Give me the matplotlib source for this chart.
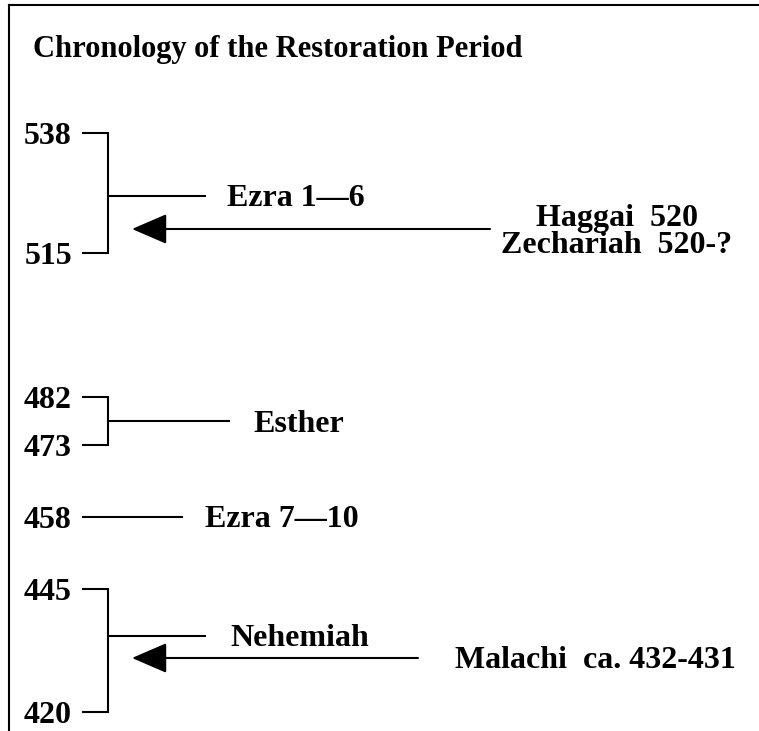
import matplotlib
matplotlib.use('Agg')
import matplotlib.pyplot as plt

# Chart content
title = 'Chronology of the Restoration Period'
bracket_years = [(538, 515), (482, 473), (445, 420)]
bracket_books = ['Ezra 1\u20146', 'Esther', 'Nehemiah']
single_year = 458
single_book = 'Ezra 7\u201410'
prophets = [['Haggai  520', 'Zechariah  520-?'], ['Malachi  ca. 432-431']]

# Layout (pixel positions on a 759 x 731 canvas)
year_y = {538: 133, 515: 253, 482: 397, 473: 445, 458: 517, 445: 589, 420: 712}
bracket_mid = [196, 421, 636]
book_line_end = [205, 229, 205]
book_x = [227, 253, 230]
single_line_end = 182
single_book_x = 205
arrow_y = [229, 658]
arrow_start = [490, 418]
arrow_tip = 132
prophet_x = [617, 455]
prophet_ha = ['center', 'left']
prophet_base = [[226, 253], [668]]

tick_x0, tick_x1 = 83, 108
lw = 1.5
font = dict(family='Liberation Serif', weight='bold', fontsize=23, color='black')

fig = plt.figure(figsize=(7.59, 7.31), dpi=100)
ax = fig.add_axes([0, 0, 1, 1])
ax.set_xlim(0, 759)
ax.set_ylim(731, 0)
ax.axis('off')

# frame (top and left only)
ax.plot([9, 759], [5, 5], color='black', lw=lw)
ax.plot([9, 9], [5, 731], color='black', lw=lw)

ax.text(33, 57, title, ha='left', va='baseline',
        family='Liberation Serif', weight='bold', fontsize=22)

def year_label(yr):
    y = year_y[yr]
    ax.text(72, y + 11, str(yr), ha='right', va='baseline', **font)

for (y0, y1), book, ym, xe, bx in zip(bracket_years, bracket_books,
                                      bracket_mid, book_line_end, book_x):
    a, b = year_y[y0], year_y[y1]
    ax.plot([tick_x0, tick_x1, tick_x1, tick_x0], [a, a, b, b],
            color='black', lw=lw, solid_joinstyle='miter')
    ax.plot([tick_x1, xe], [ym, ym], color='black', lw=lw)
    year_label(y0)
    year_label(y1)
    ax.text(bx, ym + 10.5, book, ha='left', va='baseline', **font)

# single year
ys = year_y[single_year]
ax.plot([tick_x0, single_line_end], [ys, ys], color='black', lw=lw)
year_label(single_year)
ax.text(single_book_x, ys + 10, single_book, ha='left', va='baseline', **font)

# prophets with arrows
for lines, y, xs, px, ha, bases in zip(prophets, arrow_y, arrow_start,
                                       prophet_x, prophet_ha, prophet_base):
    ax.annotate('', xy=(arrow_tip, y), xytext=(xs, y),
                arrowprops=dict(arrowstyle='-|>,head_length=2.2,head_width=0.95',
                                mutation_scale=10, lw=lw, color='black',
                                shrinkA=0, shrinkB=0))
    for line, yb in zip(lines, bases):
        ax.text(px, yb, line, ha=ha, va='baseline', **font)

fig.savefig('out.png', dpi=100)
